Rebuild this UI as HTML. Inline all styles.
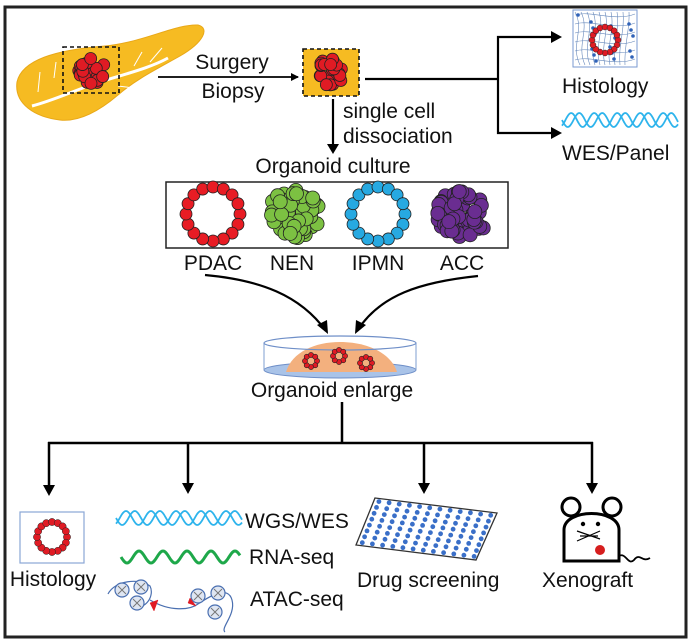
<!DOCTYPE html>
<html><head><meta charset="utf-8"><style>
html,body{margin:0;padding:0;background:#fff;}
svg{display:block;}
text{font-family:"Liberation Sans",Arial,sans-serif;fill:#111;}
</style></head><body>
<svg id="s" width="691" height="644" viewBox="0 0 691 644" xmlns="http://www.w3.org/2000/svg">
<defs>
<marker id="ah" markerWidth="8" markerHeight="8" refX="7" refY="4" orient="auto" markerUnits="userSpaceOnUse"><path d="M0,0 L8,4 L0,8 Z" fill="#000"/></marker>
</defs>
<rect x="5" y="7" width="681" height="630" fill="none" stroke="#222" stroke-width="3"/>

<!-- pancreas -->
<path d="M17,82 C22,60 55,50 105,46 C145,42 175,24 198,25 C210,28 204,42 180,56 C155,70 135,80 118,95 C98,112 78,122 60,120 C35,117 14,104 17,82Z" fill="#f6bb22" stroke="#e9a818" stroke-width="1"/>
<path d="M32,106 C55,100 75,90 100,82 C125,74 150,68 168,58" fill="none" stroke="#fff" stroke-width="3"/>
<path d="M40,72 L38,92 M56,62 L54,78 M134,66 L142,52 M150,62 L162,48 M118,86 L134,88" stroke="#fff" stroke-width="1" fill="none"/>
<rect x="63" y="47" width="56" height="46" fill="none" stroke="#111" stroke-width="1.6" stroke-dasharray="4,3"/>
<g id="tum1"></g>

<line x1="158" y1="77" x2="298" y2="77" stroke="#000" stroke-width="1.8" marker-end="url(#ah)"/>
<text x="232" y="69" font-size="21" text-anchor="middle">Surgery</text>
<text x="233" y="98" font-size="21" text-anchor="middle">Biopsy</text>

<rect x="303" y="49" width="56" height="47" fill="#f6bb22" stroke="#111" stroke-width="1.6" stroke-dasharray="4,3"/>
<g id="tum2"></g>

<line x1="365" y1="79" x2="498" y2="79" stroke="#000" stroke-width="2.2"/>
<path d="M557,37 L498,37 L498,133 L557,133" fill="none" stroke="#000" stroke-width="2.2"/>
<path d="M551,31 L562,37 L551,43Z M551,127 L562,133 L551,139Z" fill="#000"/>

<!-- histology top -->
<rect x="573" y="10" width="64" height="57" fill="#fff" stroke="#7a9ad0" stroke-width="1"/>
<g id="histtop" stroke="#5577aa" stroke-width="0.7" fill="none"></g>
<text x="562" y="93" font-size="21">Histology</text>
<g id="wavetop"></g>
<text x="562" y="160" font-size="21">WES/Panel</text>

<line x1="333" y1="99" x2="333" y2="150" stroke="#000" stroke-width="2.2"/>
<path d="M327,144 L333,154 L339,144Z" fill="#000"/>
<text x="343" y="118" font-size="21">single cell</text>
<text x="343" y="143" font-size="21">dissociation</text>
<text x="333" y="173" font-size="21" text-anchor="middle">Organoid culture</text>

<rect x="166" y="182" width="342" height="66" fill="#fff" stroke="#222" stroke-width="1.5"/>
<g id="orgs"></g>
<text x="213" y="270" font-size="21" text-anchor="middle">PDAC</text>
<text x="292" y="270" font-size="21" text-anchor="middle">NEN</text>
<text x="378" y="270" font-size="21" text-anchor="middle">IPMN</text>
<text x="462" y="270" font-size="21" text-anchor="middle">ACC</text>

<path d="M205,275 C260,280 300,295 326,331" fill="none" stroke="#000" stroke-width="2.2"/>
<path d="M478,276 C420,282 380,295 357,331" fill="none" stroke="#000" stroke-width="2.2"/>
<path d="M317,325 L328,334 L327,320Z M366,325 L355,334 L356,320Z" fill="#000"/>

<!-- dish -->
<ellipse cx="340" cy="370" rx="76" ry="8" fill="#a9c3e8" stroke="#6f8fc8" stroke-width="1"/>
<path d="M286,372 C292,352 315,342 340,342 C370,342 392,355 397,372Z" fill="#f3b07e"/>
<line x1="264" y1="343" x2="264" y2="370" stroke="#7f9fd0" stroke-width="1"/>
<line x1="416" y1="343" x2="416" y2="370" stroke="#7f9fd0" stroke-width="1"/>
<ellipse cx="340" cy="343" rx="76" ry="7" fill="none" stroke="#6f8fc8" stroke-width="1.2"/>
<g id="dishorg"></g>
<text x="332" y="397" font-size="21" text-anchor="middle">Organoid enlarge</text>

<!-- tree -->
<line x1="342" y1="402" x2="342" y2="443" stroke="#000" stroke-width="2.5"/>
<line x1="48" y1="443" x2="593" y2="443" stroke="#000" stroke-width="2.5"/>
<g stroke="#000" stroke-width="2.5">
<line x1="49" y1="442" x2="49" y2="488"/><line x1="188" y1="442" x2="188" y2="486"/>
<line x1="424" y1="442" x2="424" y2="486"/><line x1="592" y1="442" x2="592" y2="486"/>
</g>
<path d="M43,485 L49,496 L55,485Z M182,483 L188,494 L194,483Z M418,483 L424,494 L430,483Z M586,483 L592,494 L598,483Z" fill="#000"/>

<rect x="20" y="512" width="64" height="51" fill="#fff" stroke="#8aa6d6" stroke-width="1.2"/>
<g id="histbot"></g>
<text x="53" y="586" font-size="21" text-anchor="middle">Histology</text>

<g id="waves"></g>
<text x="245" y="528" font-size="21">WGS/WES</text>
<text x="249" y="564" font-size="21">RNA-seq</text>
<text x="250" y="606" font-size="21">ATAC-seq</text>
<g id="atac" fill="none" stroke="#4a6fb0" stroke-width="1.2"></g>

<!-- plate -->
<path d="M375,498 L497,513 L476,560 L356,545Z" fill="#fff" stroke="#333" stroke-width="1.3"/>
<g id="plate"></g>
<text x="357" y="587" font-size="21">Drug screening</text>

<!-- mouse -->
<g stroke="#000" stroke-width="3" fill="#fff">
<circle cx="571" cy="507" r="9"/><circle cx="612" cy="507" r="9"/>
<path d="M564,561 L564,530 C564,508 619,508 619,530 L619,561 Z"/>
</g>
<path d="M619,556 C626,552 628,566 634,560 C640,552 642,563 650,558" fill="none" stroke="#000" stroke-width="1.8"/>
<circle cx="583" cy="524" r="2.2" fill="#000"/><circle cx="598" cy="524" r="2.2" fill="#000"/>
<path d="M577,531 L600,539 M577,541 L600,531 M580,536 L598,536" stroke="#000" stroke-width="1.2"/>
<circle cx="600" cy="550" r="5" fill="#d61e1e"/>
<text x="542" y="587" font-size="21">Xenograft</text>
</svg>
<script>
var NS="http://www.w3.org/2000/svg";
function c(g,x,y,r,f,s,sw){var e=document.createElementNS(NS,"circle");e.setAttribute("cx",x);e.setAttribute("cy",y);e.setAttribute("r",r);e.setAttribute("fill",f);e.setAttribute("stroke",s||"#222");e.setAttribute("stroke-width",sw||0.8);document.getElementById(g).appendChild(e);}
function p(g,d,st,sw,f){var e=document.createElementNS(NS,"path");e.setAttribute("d",d);e.setAttribute("stroke",st);e.setAttribute("stroke-width",sw);e.setAttribute("fill",f||"none");document.getElementById(g).appendChild(e);}
function cluster(g,cx,cy,R,r,col,n,seed){var s=seed;function rnd(){s=(s*9301+49297)%233280;return s/233280;}
for(var i=0;i<n;i++){var a=rnd()*6.283,d=Math.sqrt(rnd())*R;c(g,cx+Math.cos(a)*d,cy+Math.sin(a)*d*0.95,r,col,"#222",0.8);}}
function ring(g,cx,cy,R,r,col,n,sw){for(var i=0;i<n;i++){var a=i/n*6.283;c(g,cx+Math.cos(a)*R,cy+Math.sin(a)*R,r,col,"#222",sw||0.8);}}
cluster("tum1",90,70,15,6,"#e01b24",26,7);
cluster("tum2",331,72,15,6,"#e01b24",26,11);
ring("orgs",213,214,27,6,"#e81c24",16);
cluster("orgs",294,214,26,7,"#7cc142",60,3);
ring("orgs",378,214,27,6,"#27a9e1",16);
cluster("orgs",462,214,26,7,"#6a2d91",60,5);
ring("dishorg",311,361,6,2.6,"#e01b24",8,0.6);
ring("dishorg",339,356,6,2.6,"#e01b24",8,0.6);
ring("dishorg",366,363,6,2.6,"#e01b24",8,0.6);
var hp="";for(var i=0;i<10;i++){hp+="M"+(575+i*6)+",12 C"+(585+i*5)+",30 "+(570+i*6)+",45 "+(580+i*5)+",65 ";}
for(var i=0;i<6;i++){hp+="M575,"+(15+i*9)+" C590,"+(10+i*9)+" 615,"+(22+i*9)+" 635,"+(14+i*9)+" ";}
p("histtop",hp,"#6688bb",0.6);
for(var i=0;i<18;i++){var x=578+(i*37)%56,y=15+(i*23)%48;c("histtop",x,y,1.8,"#2f62b8","none",0);}
ring("histtop",605,40,13,3,"#e01b24",16,0.5);
ring("histbot",52,537,15,3.6,"#e01b24",16,0.5);
function wave(g,x0,x1,y,amp,per,col,sw,ph){var d="";for(var x=x0;x<=x1;x+=1){var yy=y+amp*Math.sin((x-x0)/per*6.283+ph);d+=(x==x0?"M":"L")+x+","+yy.toFixed(1);}p(g,d,col,sw);}
wave("waves",562,678,120,7,23,"#2eb4ec",1.8,0);wave("waves",562,678,120,7,23,"#2eb4ec",1.8,2.2);
wave("waves",116,242,518,7,25,"#2eb4ec",1.8,0);wave("waves",116,242,518,7,25,"#2eb4ec",1.8,2.2);
wave("waves",121,240,557,6,24,"#1ea84a",3,0);
p("atac","M108,594 C115,580 140,578 150,586 C155,596 145,610 135,606 M150,600 C170,612 190,610 198,604","#4a6fb0",1.2);
p("atac","M198,604 C210,596 228,585 232,600 C236,615 220,628 225,632","#4a6fb0",1.2);
[[122,590],[141,587],[137,603],[198,596],[218,593],[215,612]].forEach(function(q){c("atac",q[0],q[1],7,"#dfe6f2","#4a6fb0",1.2);p("atac","M"+(q[0]-4)+","+(q[1]-4)+"L"+(q[0]+4)+","+(q[1]+4)+"M"+(q[0]+4)+","+(q[1]-4)+"L"+(q[0]-4)+","+(q[1]+4),"#777",1);});
p("atac","M150,603 L158,600 L154,611Z","#e01b24",0.5,"#e01b24");
p("atac","M188,603 L196,606 L190,598Z","#e01b24",0.5,"#e01b24");
for(var i=0;i<12;i++)for(var j=0;j<8;j++){var u=(i+0.5)/12,v=(j+0.5)/8;
var x=375+(497-375)*u+(356-375)*v, y=498+(513-498)*u+(545-498)*v;c("plate",x.toFixed(1),y.toFixed(1),2.4,"#3a6fc8","none",0);}
</script>
</body></html>
